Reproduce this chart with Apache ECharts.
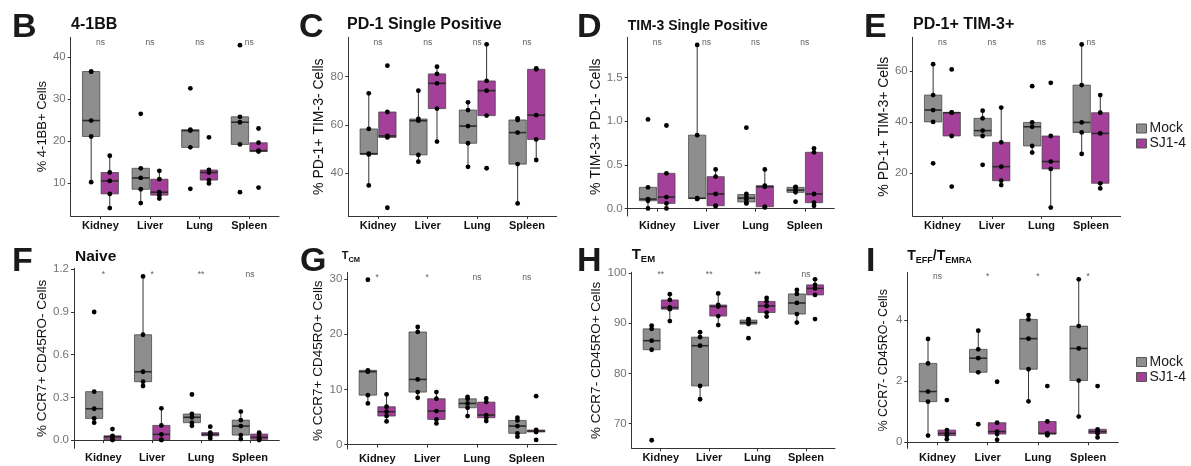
<!DOCTYPE html>
<html>
<head>
<meta charset="utf-8">
<script src="https://cdn.jsdelivr.net/npm/echarts@6/dist/echarts.min.js"></script>
<style>
  html, body { margin: 0; padding: 0; background: #fff; }
  #chart { width: 1191px; height: 466px; }
</style>
</head>
<body>
<div id="chart"></div>
<script>
// categories / groups
const categories = ['Kidney', 'Liver', 'Lung', 'Spleen']
const groups = ['Mock', 'SJ1-4']

// per-animal values (one array per organ)
// B: 4-1BB
const bMock = [[10.2, 21.1, 24.9, 36.6, 36.6], [5.2, 8.5, 11.2, 13.5, 26.5], [8.6, 18.5, 22.5, 22.7, 32.6], [7.8, 19.2, 24.5, 25.8, 42.9]]
const bSJ = [[4.0, 7.4, 10.5, 12.5, 16.5], [6.3, 7.1, 7.8, 10.9, 12.9], [9.9, 10.7, 12.5, 13.1, 20.9], [8.9, 17.5, 17.7, 19.6, 23.0]]
// C: PD-1 single positive
const cMock = [[35.0, 47.8, 48.1, 58.3, 73.0], [44.8, 47.6, 61.7, 62.4, 74.1], [42.7, 52.4, 59.5, 66.1, 69.3], [27.6, 43.8, 56.8, 62.0, 62.7]]
const cSJ = [[25.8, 54.8, 55.4, 65.3, 84.4], [53.1, 66.7, 77.1, 81.0, 84.0], [42.1, 63.8, 74.1, 78.1, 93.2], [45.5, 54.0, 64.0, 82.9, 83.3]]
// D: TIM-3 single positive
const dMock = [[0.004, 0.091, 0.11, 0.244, 1.02], [0.11, 0.115, 0.12, 0.84, 1.87], [0.06, 0.068, 0.105, 0.137, 0.17, 0.925], [0.08, 0.187, 0.213, 0.244, 0.25]]
const dSJ = [[0.004, 0.061, 0.133, 0.404, 0.95], [0.03, 0.034, 0.168, 0.366, 0.449], [0.015, 0.023, 0.251, 0.263, 0.449], [0.034, 0.069, 0.168, 0.644, 0.69]]
// E: PD-1+ TIM-3+
const eMock = [[23.9, 40.1, 44.75, 50.6, 62.7], [23.3, 34.6, 36.7, 41.5, 44.5], [28.1, 30.7, 38.2, 39.9, 54.1], [27.6, 36.0, 39.9, 54.5, 70.4]]
const eSJ = [[14.8, 34.6, 43.7, 43.8, 60.65], [15.4, 17.1, 22.6, 32.1, 45.7], [6.6, 21.7, 24.6, 34.6, 55.4], [14.1, 16.1, 35.6, 43.7, 50.6]]
// F: Naive
const fMock = [[0.122, 0.152, 0.22, 0.34, 0.90], [0.38, 0.41, 0.48, 0.74, 1.15], [0.10, 0.122, 0.16, 0.183, 0.32], [0.007, 0.035, 0.098, 0.14, 0.2]]
const fSJ = [[0.0, 0.003, 0.023, 0.03, 0.077], [0.0, 0.002, 0.04, 0.103, 0.223], [0.012, 0.03, 0.04, 0.052, 0.094], [0.0, 0.005, 0.019, 0.042, 0.052]]
// G: TCM
const gMock = [[7.45, 8.95, 13.2, 13.45, 29.85], [8.47, 9.5, 11.8, 20.4, 21.3], [5.17, 6.67, 7.45, 8.29, 8.65], [1.44, 2.04, 3.36, 4.38, 4.86]]
const gSJ = [[4.2, 5.17, 5.95, 6.85, 9.1], [3.84, 4.56, 6.07, 8.3, 9.5], [4.26, 4.86, 5.35, 7.69, 8.35], [0.84, 2.28, 2.46, 2.64, 8.77]]
// H: TEM
const hMock = [[66.7, 84.7, 86.5, 88.85, 89.5], [74.85, 77.5, 85.5, 87.2, 88.2], [87.0, 89.8, 90.1, 90.6, 90.8], [90.1, 91.8, 94.0, 95.8, 96.6]]
const hSJ = [[90.4, 92.76, 93.1, 94.6, 95.75], [89.6, 91.4, 93.3, 93.6, 95.9], [91.3, 92.1, 93.4, 94.3, 95.0], [90.8, 95.6, 96.9, 97.6, 98.7]]
// I: TEFF/TEMRA
const iMock = [[0.22, 1.33, 1.66, 2.58, 3.38], [0.59, 2.29, 2.75, 3.04, 3.65], [1.34, 2.39, 3.39, 4.02, 4.16], [0.84, 2.02, 3.07, 3.80, 5.33]]
const iSJ = [[0.10, 0.22, 0.29, 0.40, 1.38], [0.08, 0.27, 0.35, 0.64, 1.98], [0.23, 0.27, 0.29, 0.68, 1.84], [0.16, 0.29, 0.35, 0.425, 1.84]]

// significance labels
const sigB = ['ns', 'ns', 'ns', 'ns']
const sigC = ['ns', 'ns', 'ns', 'ns']
const sigD = ['ns', 'ns', 'ns', 'ns']
const sigE = ['ns', 'ns', 'ns', 'ns']
const sigF = ['*', '*', '**', 'ns']
const sigG = ['*', '*', 'ns', 'ns']
const sigH = ['**', '**', '**', 'ns']
const sigI = ['ns', '*', '*', '*']

// y tick labels
const ticksB = ['10', '20', '30', '40']
const ticksC = ['40', '60', '80']
const ticksD = ['0.0', '0.5', '1.0', '1.5']
const ticksE = ['20', '40', '60']
const ticksF = ['0.0', '0.3', '0.6', '0.9', '1.2']
const ticksG = ['0', '10', '20', '30']
const ticksH = ['70', '80', '90', '100']
const ticksI = ['0', '2', '4']

const FONT = '"Liberation Sans", Arial, Helvetica, sans-serif'
const colors = ['#8e8e8e', '#a5409a']
const offsets = [-0.1875, 0.1875]
const BOX_W = 0.35

// panel layout (pixels) and axis ranges
const panels = [
  { mock: bMock, sj: bSJ, sig: sigB, ticks: ticksB, yName: '% 4-1BB+ Cells', nameSize: 13, nameGap: 21,
    left: 70.7, right: 279, top: 37.3, bottom: 216, yMin: 2.12, yMax: 44.77, sigY: 43.5 },
  { mock: cMock, sj: cSJ, sig: sigC, ticks: ticksC, yName: '% PD-1+ TIM-3- Cells', nameSize: 14, nameGap: 19,
    left: 348.3, right: 556.7, top: 37.3, bottom: 216, yMin: 22.4, yMax: 96.1, sigY: 93.9 },
  { mock: dMock, sj: dSJ, sig: sigD, ticks: ticksD, yName: '% TIM-3+ PD-1- Cells', nameSize: 14, nameGap: 21,
    left: 627.7, right: 834.3, top: 37.3, bottom: 216, yMin: -0.083, yMax: 1.957, sigY: 1.896 },
  { mock: eMock, sj: eSJ, sig: sigE, ticks: ticksE, yName: '% PD-1+ TIM-3+ Cells', nameSize: 14, nameGap: 21,
    left: 912.7, right: 1120.7, top: 37.3, bottom: 216, yMin: 3.3, yMax: 73.2, sigY: 71.1 },
  { mock: fMock, sj: fSJ, sig: sigF, ticks: ticksF, yName: '% CCR7+ CD45RO- Cells', nameSize: 13.5, nameGap: 19,
    left: 74, right: 279.3, top: 268.3, bottom: 448.3, yMin: -0.058, yMax: 1.207, sigY: 1.165 },
  { mock: gMock, sj: gSJ, sig: sigG, ticks: ticksG, yName: '% CCR7+ CD45RO+ Cells', nameSize: 13.5, nameGap: 18,
    left: 347.3, right: 556.7, top: 272.3, bottom: 449, yMin: -0.8, yMax: 31.2, sigY: 30.3 },
  { mock: hMock, sj: hSJ, sig: sigH, ticks: ticksH, yName: '% CCR7- CD45RO+ Cells', nameSize: 13.5, nameGap: 24,
    left: 631.7, right: 835, top: 272.3, bottom: 448.3, yMin: 65.1, yMax: 100.1, sigY: 99.66 },
  { mock: iMock, sj: iSJ, sig: sigI, ticks: ticksI, yName: '% CCR7- CD45RO- Cells', nameSize: 12.5, nameGap: 17,
    left: 907.3, right: 1118.3, top: 272.3, bottom: 448.3, yMin: -0.196, yMax: 5.56, sigY: 5.42 }
]

// ggplot-style box stats (type 7 quantiles, 1.5 IQR whiskers)
const quantile = (s, p) => {
  const h = (s.length - 1) * p
  const i = Math.floor(h)
  return i + 1 < s.length ? s[i] + (h - i) * (s[i + 1] - s[i]) : s[i]
}
const boxStats = vals => {
  const s = [...vals].sort((a, b) => a - b)
  const q1 = quantile(s, 0.25), med = quantile(s, 0.5), q3 = quantile(s, 0.75)
  const iqr = q3 - q1
  const lo = Math.min(q1, ...s.filter(v => v >= q1 - 1.5 * iqr))
  const hi = Math.max(q3, ...s.filter(v => v <= q3 + 1.5 * iqr))
  return [lo, q1, med, q3, hi]
}

const renderBox = (params, api) => {
  const x = api.value(0)
  const yLo = api.coord([x, api.value(1)])[1]
  const yQ1 = api.coord([x, api.value(2)])[1]
  const yMed = api.coord([x, api.value(3)])[1]
  const yQ3 = api.coord([x, api.value(4)])[1]
  const yHi = api.coord([x, api.value(5)])[1]
  const cx = api.coord([x, api.value(3)])[0]
  const w = api.size([BOX_W, 0])[0]
  const line = { stroke: '#333', lineWidth: 1 }
  return {
    type: 'group',
    children: [
      { type: 'line', shape: { x1: cx, y1: yHi, x2: cx, y2: yQ3 }, style: line },
      { type: 'line', shape: { x1: cx, y1: yQ1, x2: cx, y2: yLo }, style: line },
      { type: 'rect', shape: { x: cx - w / 2, y: yQ3, width: w, height: yQ1 - yQ3 },
        style: { fill: api.visual('color'), stroke: 'rgba(60,60,60,0.7)', lineWidth: 1 } },
      { type: 'line', shape: { x1: cx - w / 2, y1: yMed, x2: cx + w / 2, y2: yMed },
        style: { stroke: '#2b2b2b', lineWidth: 1.6 } }
    ]
  }
}

const grid = [], xAxis = [], yAxis = [], series = []
panels.forEach((p, k) => {
  grid.push({ left: p.left, top: p.top, width: p.right - p.left, height: p.bottom - p.top })
  xAxis.push({
    gridIndex: k, type: 'value', min: 0.4, max: 4.6,
    axisLine: { lineStyle: { color: '#333', width: 1 } },
    axisTick: { customValues: [1, 2, 3, 4], length: 3, lineStyle: { color: '#333' } },
    axisLabel: { customValues: [1, 2, 3, 4], formatter: v => categories[Math.round(v) - 1] || '',
      fontFamily: FONT, fontSize: 11, fontWeight: 'bold', color: '#111', margin: 4 },
    splitLine: { show: false }
  })
  const tickVals = p.ticks.map(Number)
  yAxis.push({
    gridIndex: k, type: 'value', min: p.yMin, max: p.yMax,
    name: p.yName, nameLocation: 'middle', nameRotate: 90, nameGap: p.nameGap,
    nameTextStyle: { fontFamily: FONT, fontSize: p.nameSize, color: '#111' },
    axisLine: { show: true, lineStyle: { color: '#333', width: 1 } },
    axisTick: { show: true, customValues: tickVals, length: 3, lineStyle: { color: '#333' } },
    axisLabel: { customValues: tickVals, formatter: v => p.ticks[tickVals.indexOf(v)] ?? '',
      fontFamily: FONT, fontSize: 11.5, color: '#737373', margin: 5 },
    splitLine: { show: false }
  })
  ;[p.mock, p.sj].forEach((grp, gi) => {
    series.push({
      type: 'custom', name: groups[gi], xAxisIndex: k, yAxisIndex: k,
      itemStyle: { color: colors[gi] },
      renderItem: renderBox,
      data: grp.map((vals, ci) => [ci + 1 + offsets[gi], ...boxStats(vals)]),
      z: 2
    })
    const pts = []
    grp.forEach((vals, ci) => vals.forEach(v => pts.push([ci + 1 + offsets[gi], v])))
    series.push({
      type: 'scatter', xAxisIndex: k, yAxisIndex: k, data: pts,
      symbolSize: 4.8, itemStyle: { color: '#000', opacity: 1 }, z: 5
    })
  })
  series.push({
    type: 'scatter', xAxisIndex: k, yAxisIndex: k, symbolSize: 1,
    itemStyle: { color: 'rgba(0,0,0,0)' },
    label: { show: true, position: 'inside', fontFamily: FONT, fontSize: 8.5, color: '#333' },
    data: p.sig.map((s, i) => ({ value: [i + 1, p.sigY], label: { formatter: s } })),
    z: 6
  })
})

// panel letters and titles
const letters = [['B', 12, 28], ['C', 299, 28], ['D', 577, 28], ['E', 864, 28],
  ['F', 12, 262], ['G', 300, 262], ['H', 577, 262], ['I', 866, 262]]
const graphic = letters.map(([t, x, y]) => ({
  type: 'text', x, y,
  style: { text: t, font: `bold 34px ${FONT}`, fill: '#1a1a1a', verticalAlign: 'middle' }
}))
const plainTitles = [['4-1BB', 71, 25, 16], ['PD-1 Single Positive', 347, 25, 16],
  ['TIM-3 Single Positive', 627.7, 26.5, 14], ['PD-1+ TIM-3+', 913, 24.5, 16], ['Naive', 75, 257, 15.5]]
plainTitles.forEach(([t, x, y, s]) => graphic.push({
  type: 'text', x, y,
  style: { text: t, font: `bold ${s}px ${FONT}`, fill: '#111', verticalAlign: 'middle' }
}))
const subTitle = (text, x, y, big, small) => ({
  type: 'text', x, y,
  style: {
    text, fill: '#111', verticalAlign: 'middle',
    rich: {
      t: { fontFamily: FONT, fontWeight: 'bold', fontSize: big, fill: '#111', verticalAlign: 'bottom', padding: [0, 0, 2, 0] },
      s: { fontFamily: FONT, fontWeight: 'bold', fontSize: small, fill: '#111', verticalAlign: 'bottom' }
    }
  }
})
graphic.push(subTitle('{t|T}{s|CM}', 341.7, 257, 11, 7.5))
graphic.push(subTitle('{t|T}{s|EM}', 631.7, 256, 15, 9.5))
graphic.push(subTitle('{t|T}{s|EFF}{t|/T}{s|EMRA}', 907.3, 257, 14, 9))

const legendBase = {
  data: groups, orient: 'vertical', icon: 'rect', itemWidth: 10, itemHeight: 9, itemGap: 1,
  selectedMode: false, itemStyle: { borderColor: '#555', borderWidth: 1 },
  textStyle: { fontFamily: FONT, fontSize: 14, color: '#1a1a1a', padding: [0, 0, 0, -2] }
}

const chart = echarts.init(document.getElementById('chart'), null, { renderer: 'canvas' })
chart.setOption({
  animation: false,
  backgroundColor: '#fff',
  grid, xAxis, yAxis, series, graphic,
  legend: [
    { ...legendBase, left: 1131, top: 116.5 },
    { ...legendBase, left: 1131, top: 350 }
  ]
})
</script>
</body>
</html>
